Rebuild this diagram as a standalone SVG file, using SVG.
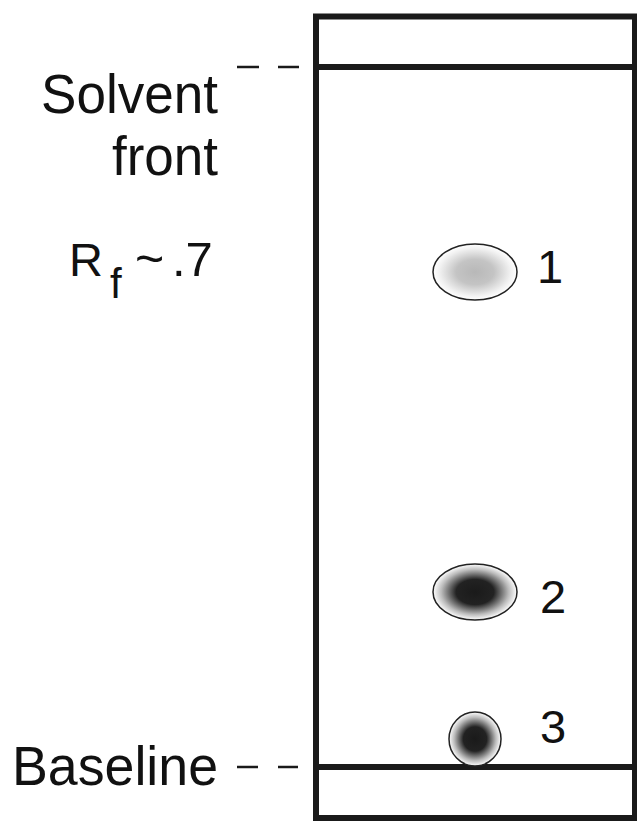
<svg xmlns="http://www.w3.org/2000/svg" width="637" height="821" viewBox="0 0 637 821">
<style>
.lbl{font-family:"Liberation Sans",Arial,sans-serif;fill:#111;font-size:56px}
.num{font-family:"Liberation Sans",Arial,sans-serif;fill:#111;font-size:47px}
.frame{fill:none;stroke:#1a1a1a;stroke-width:6}
.dash{stroke:#1a1a1a;stroke-width:2.5}
.spot{stroke:#222;stroke-width:1.5}
</style>
<defs>
<radialGradient id="g1" cx="0.5" cy="0.5" r="0.5">
<stop offset="0" stop-color="#b8b8b8"/>
<stop offset="0.45" stop-color="#c4c4c4"/>
<stop offset="0.85" stop-color="#f2f2f2"/>
<stop offset="1" stop-color="#ffffff"/>
</radialGradient>
<radialGradient id="g2" cx="0.5" cy="0.5" r="0.5">
<stop offset="0" stop-color="#1a1a1a"/>
<stop offset="0.45" stop-color="#222"/>
<stop offset="0.8" stop-color="#bbb"/>
<stop offset="1" stop-color="#fff"/>
</radialGradient>
</defs>
<g id="plate">
<rect class="frame" x="316" y="16.5" width="319" height="801.5"/>
<line class="frame" x1="316" y1="67" x2="635" y2="67"/>
<line class="frame" x1="316" y1="767" x2="635" y2="767"/>
</g>
<g id="connectors">
<line class="dash" x1="237" y1="67" x2="259" y2="67"/>
<line class="dash" x1="278" y1="67" x2="299" y2="67"/>
<line class="dash" x1="237" y1="767" x2="258" y2="767"/>
<line class="dash" x1="278" y1="767" x2="298" y2="767"/>
</g>
<g id="solvent-label">
<text class="lbl" x="41" y="113" textLength="177" lengthAdjust="spacingAndGlyphs">Solvent</text>
<text class="lbl" x="112" y="175" textLength="106" lengthAdjust="spacingAndGlyphs">front</text>
</g>
<g id="rf-label">
<text class="num" x="69" y="276" font-size="50">R<tspan x="110" y="298" font-size="42">f</tspan><tspan x="135" y="276" font-size="50">~</tspan><tspan x="172" y="276" font-size="49">.7</tspan></text>
</g>
<g id="baseline-label">
<text class="lbl" x="12" y="785" textLength="206" lengthAdjust="spacingAndGlyphs">Baseline</text>
</g>
<g id="spot1">
<ellipse class="spot" cx="475" cy="272" rx="42" ry="28" fill="url(#g1)"/>
<text class="num" x="537" y="283">1</text>
</g>
<g id="spot2">
<ellipse class="spot" cx="475" cy="592" rx="42" ry="28" fill="url(#g2)"/>
<text class="num" x="540" y="613">2</text>
</g>
<g id="spot3">
<ellipse class="spot" cx="475" cy="739" rx="26" ry="27" fill="url(#g2)"/>
<text class="num" x="540" y="743">3</text>
</g>
</svg>
